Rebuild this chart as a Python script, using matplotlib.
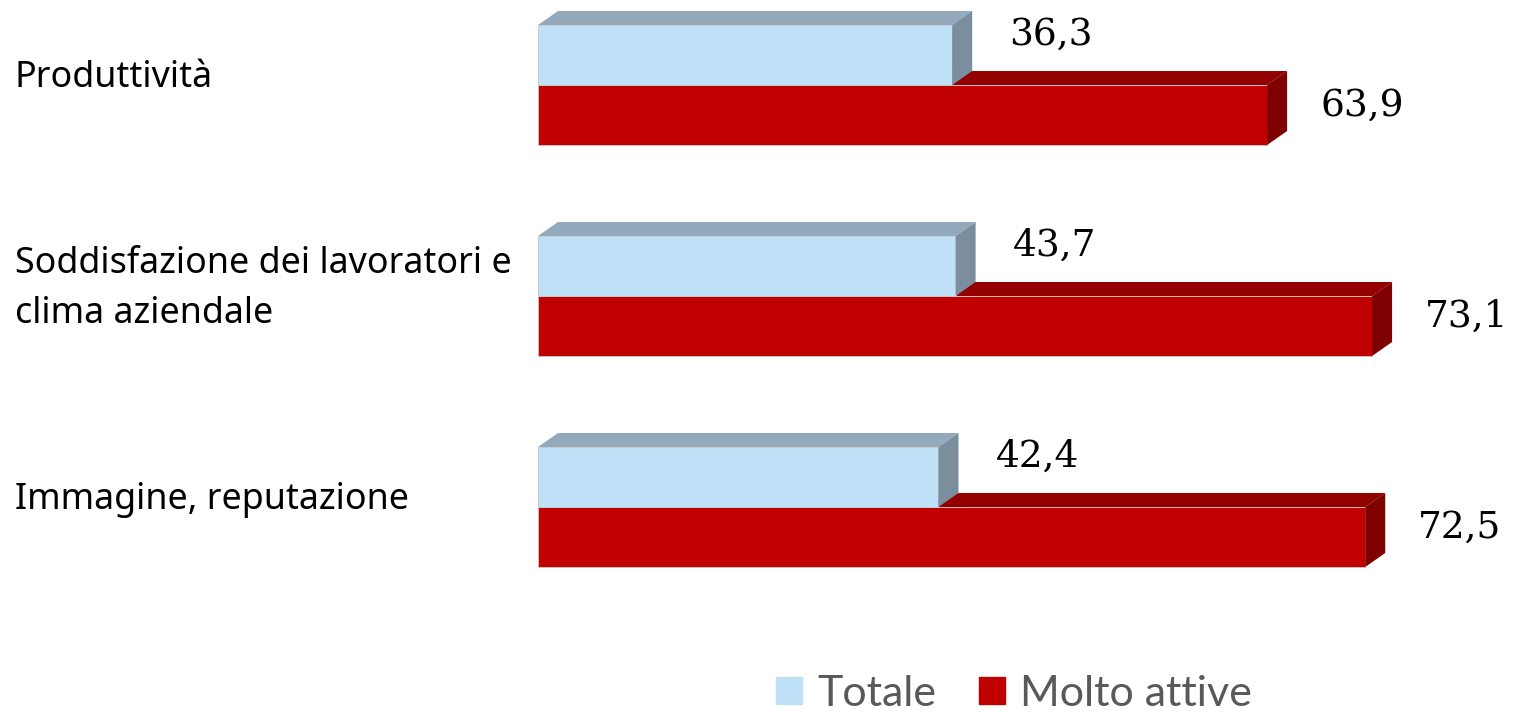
import matplotlib.pyplot as plt
import matplotlib.transforms as mtransforms
from matplotlib.patches import Patch

# dati
categorie = ["Produttività", "Soddisfazione dei lavoratori e\nclima aziendale", "Immagine, reputazione"]
totale = [36.3, 43.7, 42.4]          # valori riportati nelle etichette
totale_barra = [36.3, 36.6, 35.1]    # lunghezza delle barre come appare nel grafico
molto_attive = [63.9, 73.1, 72.5]
serie = ["Totale", "Molto attive"]

# colori (fronte, sopra, lato)
col_tot = ("#BFE1F8", "#93AABD", "#7B8E9E")
col_mol = ("#C00000", "#930000", "#7F0000")

W, H = 1517, 712
sc = 11.41        # px per unità
x0 = 538          # px dello zero
passo = 211       # px tra i gruppi
h = 60 / passo    # spessore barra
dx = 20 / sc      # profondità 3d
dy = 14 / passo


def fmt(v):
    return f"{v:.1f}".replace(".", ",")


def barra3d(ax, y_top, lung, colori, z):
    fronte, sopra, lato = colori
    ax.barh(y_top + h / 2, lung, height=h, left=0, color=fronte,
            edgecolor="#C8C8C8", linewidth=0.6, zorder=z)
    ax.fill([0, dx, lung + dx, lung], [y_top, y_top - dy, y_top - dy, y_top],
            color=sopra, lw=0, zorder=z)
    ax.fill([lung, lung + dx, lung + dx, lung],
            [y_top, y_top - dy, y_top + h - dy, y_top + h],
            color=lato, lw=0, zorder=z)


fig = plt.figure(figsize=(W / 100, H / 100), dpi=100)
ax = fig.add_axes([0, 0, 1, 1])
ax.set_xlim(-x0 / sc, (W - x0) / sc)
ax.set_ylim((H - 85) / passo, -85 / passo)
ax.axis("off")

trans = mtransforms.blended_transform_factory(fig.transFigure, ax.transData)

for i in range(len(categorie)):
    # molto attive sotto, totale sopra
    barra3d(ax, i, molto_attive[i], col_mol, 2 + i * 2)
    barra3d(ax, i - h, totale_barra[i], col_tot, 3 + i * 2)

    ax.text(totale_barra[i] + dx + 37 / sc, i - h / 2 - 20 / passo, fmt(totale[i]),
            fontsize=27, family="DejaVu Serif", va="center", ha="left", color="black")
    ax.text(molto_attive[i] + dx + 33 / sc, i + h / 2 - 9 / passo, fmt(molto_attive[i]),
            fontsize=27, family="DejaVu Serif", va="center", ha="left", color="black")

    ax.text(15 / W, i - 7 / passo, categorie[i], transform=trans, fontsize=25.8,
            family="Noto Sans", va="center", ha="left", color="black", linespacing=1.5)

maniglie = [Patch(color=col_tot[0]), Patch(color=col_mol[0])]
leg = fig.legend(maniglie, serie, loc="center", bbox_to_anchor=(1014 / W, 18 / H),
                 ncol=2, frameon=False, prop={"family": "Lato", "size": 31},
                 handlelength=0.6, handleheight=0.6, handletextpad=0.35,
                 columnspacing=1.0, labelcolor="#595959")

fig.savefig("out.png", dpi=100)
